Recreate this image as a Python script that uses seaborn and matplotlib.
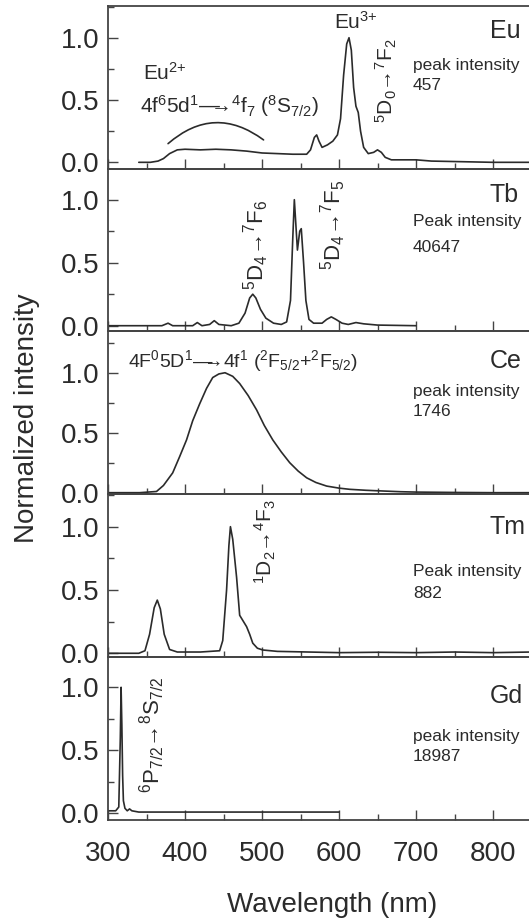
import numpy as np
import matplotlib
matplotlib.use("Agg")
import matplotlib.pyplot as plt
from matplotlib.ticker import MultipleLocator
import seaborn as sns

# emission spectra (wavelength nm, normalized intensity)
eu_nm = [340, 355, 365, 372, 380, 390, 400, 420, 440, 460, 480, 500, 520, 540, 558,
         563, 568, 571, 574, 578, 585, 592, 598, 602, 606, 610, 613, 616, 619, 622, 625,
         628, 632, 638, 645, 650, 655, 660, 668, 690, 700, 720, 760, 800, 850]
eu_int = [0.0, 0.0, 0.01, 0.03, 0.07, 0.10, 0.105, 0.10, 0.105, 0.10, 0.09, 0.075, 0.07,
          0.065, 0.065, 0.10, 0.20, 0.22, 0.17, 0.12, 0.14, 0.17, 0.22, 0.35, 0.70, 0.95, 1.0,
          0.90, 0.60, 0.45, 0.40, 0.25, 0.12, 0.07, 0.08, 0.10, 0.08, 0.04, 0.02, 0.02, 0.02,
          0.01, 0.005, 0.0, 0.0]

tb_nm = [300, 370, 378, 384, 410, 416, 422, 432, 438, 444, 460, 470, 478, 484, 488, 492,
         498, 505, 515, 525, 532, 537, 540, 542, 544, 546, 549, 551, 554, 557, 561, 567,
         578, 584, 590, 596, 604, 612, 622, 632, 650, 700]
tb_int = [0.0, 0.0, 0.02, 0.0, 0.0, 0.025, 0.0, 0.01, 0.04, 0.01, 0.0, 0.02, 0.10, 0.22,
          0.25, 0.22, 0.13, 0.06, 0.02, 0.01, 0.03, 0.20, 0.70, 1.0, 0.80, 0.60, 0.75, 0.77,
          0.50, 0.20, 0.05, 0.02, 0.02, 0.05, 0.07, 0.05, 0.02, 0.01, 0.025, 0.015, 0.005, 0.0]

ce_nm = [300, 341, 363, 372, 384, 393, 402, 410, 419, 428, 436, 444, 452, 462, 471, 482,
         493, 503, 514, 525, 536, 547, 558, 570, 584, 600, 614, 635, 657, 680, 700, 750, 800, 850]
ce_int = [0.0, 0.0, 0.01, 0.06, 0.165, 0.30, 0.44, 0.60, 0.74, 0.87, 0.96, 0.99, 1.0, 0.97,
          0.91, 0.81, 0.69, 0.56, 0.44, 0.34, 0.25, 0.18, 0.124, 0.085, 0.055, 0.038, 0.028,
          0.02, 0.014, 0.008, 0.005, 0.002, 0.0, 0.0]

tm_nm = [300, 340, 348, 354, 360, 364, 368, 373, 380, 390, 420, 445, 449, 454, 457, 459,
         462, 467, 471, 476, 480, 484, 488, 494, 501, 520, 560, 600, 650, 700, 750, 800, 850]
tm_int = [0.0, 0.0, 0.02, 0.15, 0.36, 0.42, 0.35, 0.15, 0.03, 0.01, 0.01, 0.02, 0.10, 0.50,
          0.85, 1.0, 0.90, 0.60, 0.30, 0.25, 0.21, 0.15, 0.08, 0.04, 0.026, 0.015, 0.01,
          0.005, 0.008, 0.005, 0.01, 0.005, 0.01]

gd_nm = [300, 310, 314, 316, 317, 318, 319, 320, 322, 325, 328, 331, 340, 400, 500, 600]
gd_int = [0.02, 0.02, 0.05, 0.60, 1.0, 0.70, 0.30, 0.10, 0.04, 0.02, 0.035, 0.02, 0.01,
          0.01, 0.01, 0.01]

ions = ["Eu", "Tb", "Ce", "Tm", "Gd"]
peak_words = ["peak intensity", "Peak intensity", "peak intensity", "Peak intensity",
              "peak intensity"]
peak_counts = [457, 40647, 1746, 882, 18987]
spectra = [(eu_nm, eu_int), (tb_nm, tb_int), (ce_nm, ce_int), (tm_nm, tm_int), (gd_nm, gd_int)]

sns.set_theme(style="ticks")
plt.rcParams["font.family"] = ["Liberation Sans", "DejaVu Sans"]
plt.rcParams["mathtext.fontset"] = "custom"
plt.rcParams["mathtext.rm"] = "Liberation Sans"
plt.rcParams["mathtext.it"] = "Liberation Sans:italic"
plt.rcParams["mathtext.default"] = "rm"

ink = "#2b2b2b"
W, H = 529, 919
fig = plt.figure(figsize=(W / 100, H / 100), dpi=100)

# panel layout in pixels (top, bottom) and y-limits
tops = [5.7, 169.3, 331, 494, 656.7]
bots = [169.3, 331, 494, 656.7, 820]
ylims = [(-0.056, 1.257), (-0.042, 1.241), (-0.011, 1.348), (-0.027, 1.258), (-0.053, 1.243)]
left = 108 / W
width = 550 * 0.77 / W

axes = []
for i in range(5):
    ax = fig.add_axes([left, 1 - bots[i] / H, width, (bots[i] - tops[i]) / H])
    x, y = spectra[i]
    sns.lineplot(x=x, y=y, ax=ax, color=ink, lw=1.2)
    ax.set_xlim(300, 850)
    ax.set_ylim(*ylims[i])
    ax.set_xticks([300, 400, 500, 600, 700, 800])
    ax.xaxis.set_minor_locator(MultipleLocator(50))
    ax.set_yticks([0.0, 0.5, 1.0])
    ax.set_yticklabels(["0.0", "0.5", "1.0"])
    ax.yaxis.set_minor_locator(MultipleLocator(0.25))
    ax.tick_params(which="both", direction="in", colors="#444444", width=1.0,
                   labelcolor=ink, labelsize=20)
    ax.tick_params(which="major", length=7)
    ax.tick_params(which="minor", length=4)
    ax.tick_params(axis="x", pad=15)
    ax.tick_params(axis="y", pad=6)
    if i < 4:
        ax.tick_params(axis="x", labelbottom=False)
    for s in ["left", "bottom", "top"]:
        ax.spines[s].set_color("#444444")
        ax.spines[s].set_linewidth(1.3)
    ax.spines["right"].set_visible(False)
    ax.set_xlabel("")
    ax.set_ylabel("")
    ax.patch.set_alpha(0)
    axes.append(ax)

# right-hand labels
lab_y = [1.05, 1.04, 1.10, 1.0, 0.93]
pk_y = [(0.78, 0.62), (0.825, 0.617), (0.84, 0.675), (0.645, 0.474), (0.61, 0.45)]
for i, ax in enumerate(axes):
    ax.text(796, lab_y[i], ions[i], fontsize=18, color=ink, ha="left", va="center")
    ax.text(696, pk_y[i][0], peak_words[i], fontsize=12.5, color=ink, ha="left", va="center")
    ax.text(696, pk_y[i][1], str(peak_counts[i]), fontsize=12.5, color=ink, ha="left",
            va="center")

long_arrow = "—$\\!\\!\\!$→"

# Eu panel annotations
a = axes[0]
a.text(345, 0.72, "Eu$^{2{+}}$", fontsize=15, color=ink, ha="left", va="center")
a.text(341, 0.45, "4f$^6$5d$^1$" + long_arrow + "$^4$f$_7$ ($^8$S$_{7/2}$)", fontsize=15,
       color=ink, ha="left", va="center")
a.annotate("", xy=(378, 0.15), xytext=(502, 0.18),
           arrowprops=dict(arrowstyle="-", color=ink, lw=1.2, shrinkA=0, shrinkB=0,
                           connectionstyle="arc3,rad=0.4"))
a.text(622, 1.13, "Eu$^{3{+}}$", fontsize=15, color=ink, ha="center", va="center")
a.text(662, 0.66, "$^5$D$_0$→$^7$F$_2$", fontsize=15, color=ink, rotation=90,
       ha="center", va="center")

# Tb panel annotations
a = axes[1]
a.text(493, 0.64, "$^5$D$_4$→$^7$F$_6$", fontsize=16, color=ink, rotation=90,
       ha="center", va="center")
a.text(592, 0.80, "$^5$D$_4$→$^7$F$_5$", fontsize=16, color=ink, rotation=90,
       ha="center", va="center")

# Ce panel annotation
axes[2].text(326, 1.10, "4F$^0$5D$^1$" + long_arrow + "4f$^1$ ($^2$F$_{5/2}$+$^2$F$_{5/2}$)",
             fontsize=14, color=ink, ha="left", va="center")

# Tm panel annotation
axes[3].text(505, 0.88, "$^1$D$_2$→$^4$F$_3$", fontsize=15, color=ink, rotation=90,
             ha="center", va="center")

# Gd panel annotation
axes[4].text(357, 0.62, "$^6$P$_{7/2}$→$^8$S$_{7/2}$", fontsize=16, color=ink, rotation=90,
             ha="center", va="center")

fig.text(27 / W, 1 - 418 / H, "Normalized intensity", fontsize=20, color=ink,
         rotation=90, ha="center", va="center")
fig.text(332 / W, 1 - 905 / H, "Wavelength (nm)", fontsize=20, color=ink,
         ha="center", va="center")

fig.savefig("out.png", dpi=100)
